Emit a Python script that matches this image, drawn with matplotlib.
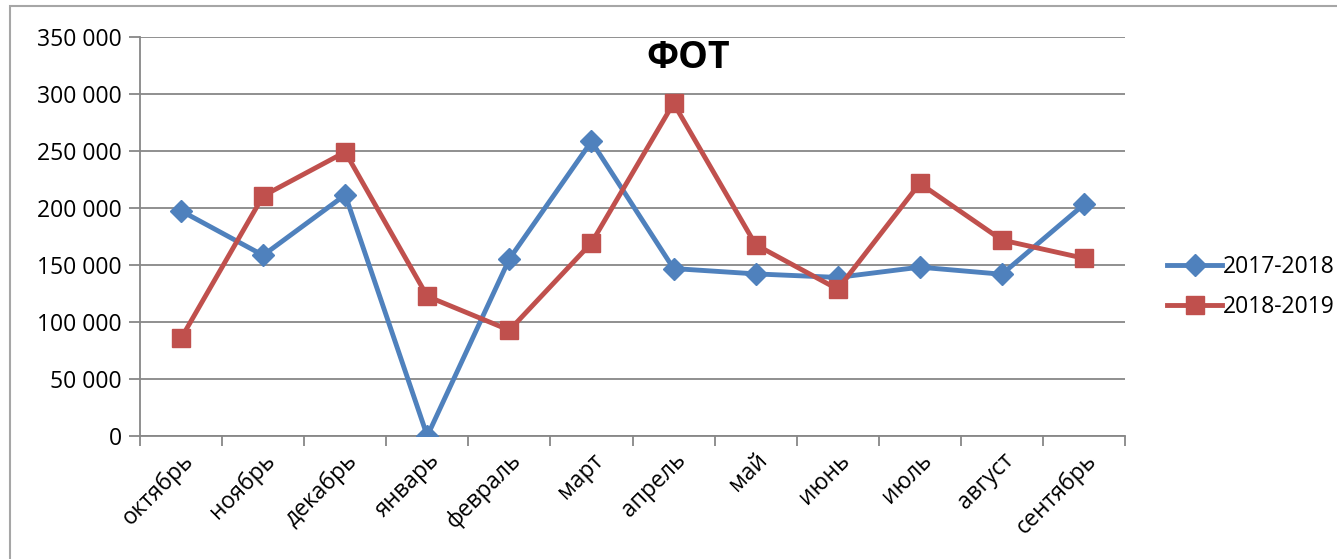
import matplotlib
matplotlib.use("Agg")
import matplotlib.pyplot as plt
from matplotlib.patches import Rectangle
from matplotlib.ticker import FuncFormatter, FixedLocator
import numpy as np

plt.rcParams['font.family'] = ['Open Sans', 'DejaVu Sans']

# data
months = ["октябрь", "ноябрь", "декабрь", "январь", "февраль", "март",
          "апрель", "май", "июнь", "июль", "август", "сентябрь"]
fot_2017 = [197500, 158500, 211500, 0, 155300, 258400,
            146900, 142200, 139100, 148100, 141900, 203100]
fot_2018 = [85600, 210600, 249100, 122500, 92800, 169400,
            291900, 167800, 128800, 221600, 171900, 155900]
labels = ["2017-2018", "2018-2019"]

BLUE = "#4F81BD"
RED = "#C0504D"
GRID = "#878787"

W, H = 1337, 559
fig = plt.figure(figsize=(W / 100, H / 100), dpi=100)
ax = fig.add_axes([140 / W, 1 - 436 / H, (1125 - 140) / W, (436 - 37) / H])

x = np.arange(len(months))
ax.plot(x, fot_2017, color=BLUE, lw=3.5, marker="D", ms=11.5,
        label=labels[0], zorder=3)
ax.plot(x, fot_2018, color=RED, lw=3.5, marker="s", ms=13,
        label=labels[1], zorder=3)

ax.set_xlim(-0.5, len(months) - 0.5)
ax.set_ylim(0, 350000)
ax.set_yticks(np.arange(0, 350001, 50000))
ax.yaxis.set_major_formatter(FuncFormatter(lambda v, p: f"{v:,.0f}".replace(",", " ")))
ax.yaxis.grid(True, color=GRID, lw=1.3)
ax.set_axisbelow(True)

# category boundaries as major ticks, labels at centres
ax.xaxis.set_major_locator(FixedLocator(np.arange(-0.5, len(months), 1)))
ax.xaxis.set_major_formatter(FuncFormatter(lambda v, p: ""))
ax.set_xticks(x, minor=True)
ax.set_xticklabels(months, minor=True, rotation=45, ha="right",
                   rotation_mode="anchor", fontsize=16.5)
ax.tick_params(axis="x", which="minor", length=0, pad=9)
ax.tick_params(axis="x", which="major", length=7, width=1.3, color=GRID)
ax.tick_params(axis="y", length=8, width=1.3, color=GRID, labelsize=16.5, pad=5)

for s in ["top", "right"]:
    ax.spines[s].set_visible(False)
for s in ["left", "bottom"]:
    ax.spines[s].set_color(GRID)
    ax.spines[s].set_linewidth(1.3)

fig.text(688 / W, 1 - 58 / H, "ФОТ", fontsize=27, fontweight="bold",
         ha="center", va="center")

fig.legend(loc="center left", bbox_to_anchor=(1158 / W, 1 - 287 / H),
           frameon=False, fontsize=16.5, handlelength=2.4, handletextpad=0.05,
           labelspacing=0.7, borderaxespad=0)

# chart frame (cropped at right and bottom)
fig.patches.append(Rectangle((10 / W, -0.1), 1.2, 1.1 - 6 / H,
                             transform=fig.transFigure, fill=False,
                             edgecolor="#A6A6A6", lw=1.5))

fig.savefig("out.png", dpi=100)
